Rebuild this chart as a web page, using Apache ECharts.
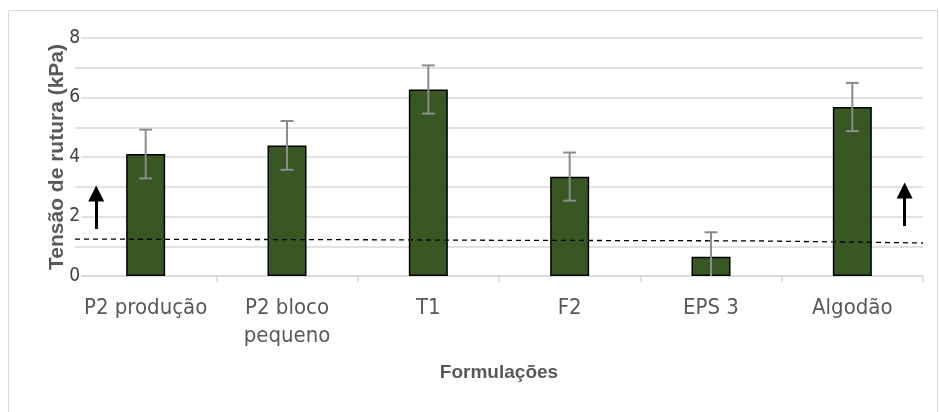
<!DOCTYPE html>
<html><head><meta charset="utf-8">
<script src="https://cdn.jsdelivr.net/npm/echarts@6/dist/echarts.min.js"></script>
<style>html,body{margin:0;padding:0;background:#fff}#c{width:939px;height:412px}</style>
</head><body><div id="c"></div>
<script>
const categories = ['P2 produção', 'P2 bloco\npequeno', 'T1', 'F2', 'EPS 3', 'Algodão'];
const values = [4.10, 4.39, 6.27, 3.34, 0.65, 5.68];
const errors = [0.82, 0.82, 0.81, 0.81, 0.82, 0.81];
// dashed reference line, at category boundaries (0..6)
const refX = [0, 1, 2, 3, 4, 4.8, 5.5, 6];
const refY = [1.24, 1.23, 1.22, 1.20, 1.19, 1.18, 1.14, 1.11];
// arrows: [x position in category units, from, to]
const arrows = [[0.15, 1.58, 2.77], [5.87, 1.68, 2.87]];
const yTicks = [0, 2, 4, 6, 8];

const chart = echarts.init(document.getElementById('c'));
chart.setOption({
  animation: false,
  graphic: [{type: 'rect', shape: {x: 8.5, y: 10.5, width: 929, height: 420}, style: {fill: 'none', stroke: '#d9d9d9', lineWidth: 1}, silent: true}],
  grid: {left: 75, right: 16, top: 38, bottom: 136},
  xAxis: [{
    type: 'category', data: categories,
    axisLine: {lineStyle: {color: '#d9d9d9', width: 1.5}},
    axisTick: {show: true, length: 6, lineStyle: {color: '#d9d9d9', width: 1.5}},
    axisLabel: {interval: 0, color: '#595959', fontSize: 22, lineHeight: 28, margin: 18, fontFamily: "'Liberation Sans Narrow','DejaVu Sans Condensed','Liberation Sans',sans-serif"},
    name: 'Formulações', nameLocation: 'middle', nameGap: 97,
    nameTextStyle: {color: '#595959', fontSize: 19, fontWeight: 'bold', fontFamily: "'Liberation Sans',Arial,sans-serif", verticalAlign: 'middle'}
  }, {
    type: 'value', min: 0, max: 6, show: false
  }],
  yAxis: {
    type: 'value', min: 0, max: 8, interval: 1,
    axisLine: {show: false}, axisTick: {show: false},
    splitLine: {lineStyle: {color: '#d9d9d9', width: 1.5}},
    axisLabel: {color: '#404040', fontSize: 19, margin: -6, fontFamily: "'Liberation Sans Narrow','DejaVu Sans Condensed','Liberation Sans',sans-serif",
      formatter: v => yTicks.includes(v) ? String(v) : '', backgroundColor: '#fff', padding: [0, 1, 0, 0]},
    name: 'Tensão de rutura (kPa)', nameLocation: 'middle', nameGap: 18, nameRotate: 90, nameMoveOverlap: false,
    nameTextStyle: {color: '#595959', fontSize: 21, fontWeight: 'bold', fontFamily: "'Liberation Sans',Arial,sans-serif", verticalAlign: 'middle'}
  },
  series: [{
    type: 'bar', data: values, barWidth: 39, xAxisIndex: 0,
    itemStyle: {color: '#385723', borderColor: '#000', borderWidth: 1.5}
  }, {
    type: 'custom', xAxisIndex: 0, clip: true, z: 5,
    data: values.map((v, i) => [i, v - errors[i], v + errors[i]]),
    renderItem: (params, api) => {
      const lo = api.coord([api.value(0), api.value(1)]);
      const hi = api.coord([api.value(0), api.value(2)]);
      const w = 6.5;
      const st = {stroke: '#8c8c8c', lineWidth: 2};
      return {type: 'group', children: [
        {type: 'line', shape: {x1: hi[0], y1: hi[1], x2: lo[0], y2: lo[1]}, style: st},
        {type: 'line', shape: {x1: hi[0] - w, y1: hi[1], x2: hi[0] + w, y2: hi[1]}, style: st},
        {type: 'line', shape: {x1: lo[0] - w, y1: lo[1], x2: lo[0] + w, y2: lo[1]}, style: st}
      ]};
    }
  }, {
    type: 'line', xAxisIndex: 1, symbol: 'none', z: 6,
    data: refX.map((x, i) => [x, refY[i]]),
    lineStyle: {color: '#000', width: 1.3, type: [5, 4]},
    markLine: {
      silent: true, symbol: ['none', 'triangle'], symbolSize: [16, 16], symbolOffset: [0, 0],
      label: {show: false},
      lineStyle: {color: '#000', width: 3, type: 'solid'},
      data: arrows.map(a => [{coord: [a[0], a[1]]}, {coord: [a[0], a[2]]}])
    }
  }]
});
</script></body></html>
